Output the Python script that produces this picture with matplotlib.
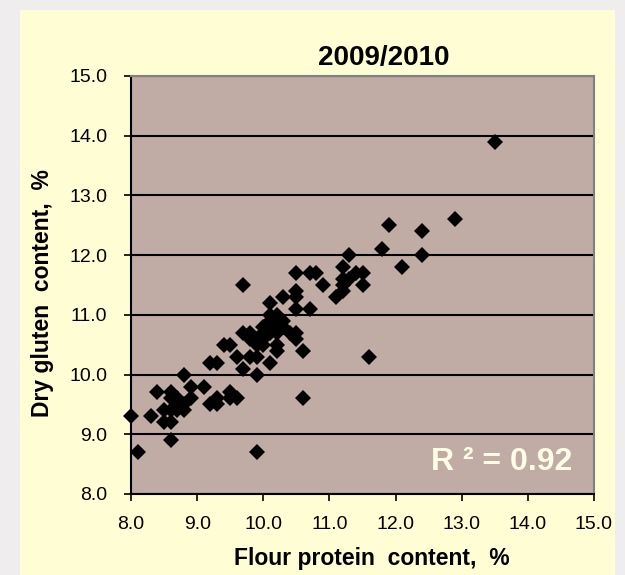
import matplotlib
matplotlib.use("Agg")
import matplotlib.pyplot as plt
from matplotlib.patches import Rectangle

plt.rcParams["font.family"] = ["Liberation Sans", "DejaVu Sans"]

# flour protein (%) vs dry gluten (%)
protein = [
    8.0, 8.1, 8.3, 8.4, 8.5, 8.5, 8.6, 8.6, 8.6, 8.6, 8.6, 8.7, 8.7, 8.7, 8.8,
    8.8, 8.8, 8.9, 8.9, 9.1, 9.2, 9.3, 9.2, 9.3, 9.3, 9.4, 9.5, 9.5, 9.5, 9.6,
    9.6, 9.7, 9.8, 9.9, 9.9, 9.9, 9.7, 9.7, 9.8, 9.8, 9.9, 10.0, 10.0, 10.1,
    10.1, 10.2, 10.1, 10.1, 10.2, 10.3, 10.3, 10.2, 10.2, 10.4, 10.5, 10.5,
    10.6, 10.6, 10.5, 10.5, 10.5, 10.5, 10.7, 10.8, 10.7, 10.9, 11.1, 11.2,
    11.2, 11.2, 11.3, 11.4, 11.5, 11.5, 11.3, 11.6, 11.8, 11.9, 12.1, 12.4,
    12.4, 12.9, 13.5, 11.2, 10.0, 10.1, 10.2, 10.0, 9.9, 10.3,
]
gluten = [
    9.3, 8.7, 9.3, 9.7, 9.4, 9.2, 9.2, 8.9, 9.7, 9.6, 9.4, 9.5, 9.6, 9.4, 9.4,
    9.5, 10.0, 9.8, 9.6, 9.8, 10.2, 10.2, 9.5, 9.5, 9.6, 10.5, 10.5, 9.7, 9.6,
    9.6, 10.3, 10.1, 10.3, 10.3, 10.0, 8.7, 11.5, 10.7, 10.7, 10.6, 10.5, 10.7,
    10.5, 10.7, 10.2, 10.4, 11.0, 11.2, 10.8, 10.9, 11.3, 10.5, 10.7, 10.7,
    10.7, 10.6, 10.4, 9.6, 11.1, 11.3, 11.4, 11.7, 11.7, 11.7, 11.1, 11.5,
    11.3, 11.4, 11.6, 11.8, 11.6, 11.7, 11.7, 11.5, 12.0, 10.3, 12.1, 12.5,
    11.8, 12.4, 12.0, 12.6, 13.9, 11.5, 10.6, 10.9, 11.0, 10.8, 10.6, 10.8,
]
ticks = [8.0, 9.0, 10.0, 11.0, 12.0, 13.0, 14.0, 15.0]
r2_text = "R ² = 0.92"

fig = plt.figure(figsize=(6.25, 5.75), dpi=100, facecolor="#efeded")
fig.patches.append(Rectangle((20 / 625, 0), 595 / 625, 565 / 575,
                             transform=fig.transFigure, facecolor="#fffdd3",
                             edgecolor="none", zorder=-5))

ax = fig.add_axes([131 / 625, 1 - 494 / 575, 463 / 625, 418 / 575])
ax.set_facecolor("#c0aca5")
ax.plot(protein, gluten, "D", color="black", markersize=7.8,
        markeredgewidth=0, clip_on=False, zorder=3)

ax.set_xlim(8, 15)
ax.set_ylim(8, 15)
ax.set_xticks(ticks)
ax.set_yticks(ticks)
ax.set_xticklabels([f"{t:.1f}" for t in ticks])
ax.set_yticklabels([f"{t:.1f}" for t in ticks])
ax.tick_params(direction="out", length=5, width=1.2, labelsize=14,
               colors="black")
ax.tick_params(axis="x", pad=11)
ax.tick_params(axis="y", pad=12)
ax.grid(axis="y", color="black", linewidth=1.5)
ax.set_axisbelow(True)

for side in ("left", "bottom"):
    ax.spines[side].set_color("black")
    ax.spines[side].set_linewidth(1.5)
for side in ("top", "right"):
    ax.spines[side].set_color("#808080")
    ax.spines[side].set_linewidth(1.5)

fig.text(384 / 625, 1 - 58 / 575, "2009/2010", ha="center", va="center",
         fontsize=20, fontweight="bold")
fig.text(372 / 625, 1 - 558 / 575, "Flour protein  content,  %", ha="center",
         va="center", fontsize=16.5, fontweight="bold")
fig.text(43 / 625, 1 - 293 / 575, "Dry gluten  content,  %", ha="center",
         va="center", rotation=90, fontsize=16.5, fontweight="bold")
fig.text(502 / 625, 1 - 462 / 575, r2_text, ha="center", va="center",
         fontsize=23, fontweight="bold", color="#fffde6")

fig.savefig("out.png", dpi=100, facecolor=fig.get_facecolor())
